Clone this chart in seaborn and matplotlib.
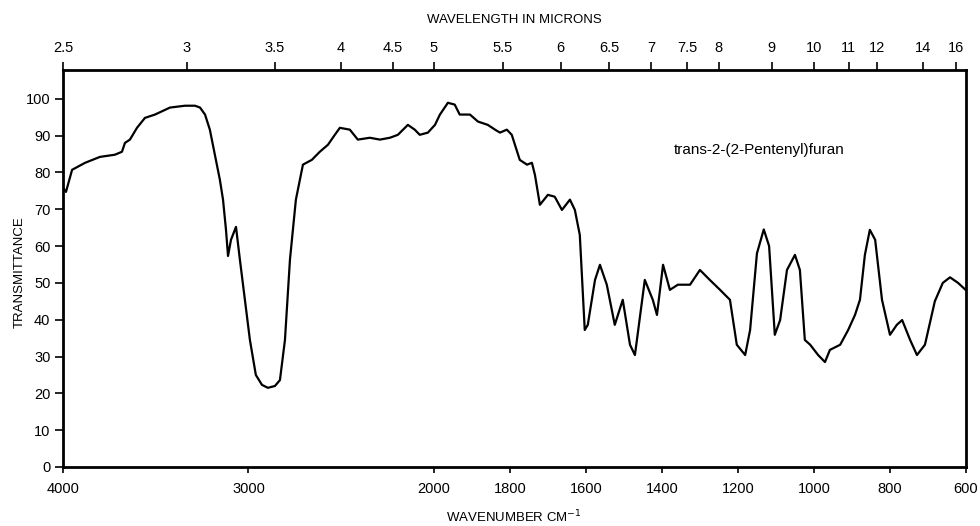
import numpy as np
import pandas as pd
import matplotlib
matplotlib.use("Agg")
import matplotlib.pyplot as plt
import seaborn as sns

# ---- data ----
wavenumber = [4000, 3984, 3951, 3881, 3801, 3720, 3682, 3666, 3639, 3601, 3558, 3504,
              3423, 3342, 3288, 3261, 3234, 3208, 3181, 3154, 3137, 3121, 3110, 3094,
              3067, 3046, 3019, 2992, 2960, 2927, 2895, 2857, 2830, 2803, 2776, 2744,
              2706, 2658, 2615, 2571, 2534, 2507, 2453, 2410, 2345, 2291, 2237, 2194,
              2140, 2103, 2076, 2032, 1997, 1984, 1963, 1945, 1932, 1905, 1884, 1858,
              1839, 1826, 1808, 1795, 1774, 1755, 1742, 1734, 1721, 1700, 1682, 1663,
              1642, 1629, 1616, 1603, 1595, 1576, 1563, 1545, 1524, 1503, 1484, 1471,
              1445, 1424, 1413, 1397, 1379, 1358, 1326, 1300, 1274, 1247, 1221, 1203,
              1181, 1168, 1150, 1132, 1118, 1103, 1089, 1071, 1050, 1037, 1024, 1010,
              989, 971, 958, 931, 910, 892, 879, 866, 853, 839, 821, 800, 782, 768,
              747, 729, 708, 682, 661, 642, 621, 600]
transmittance = [75.8, 74.7, 80.7, 82.6, 84.2, 84.8, 85.6, 88.0, 88.9, 92.1, 94.8, 95.7,
                 97.6, 98.1, 98.1, 97.6, 95.7, 91.6, 84.8, 78.0, 72.6, 64.4, 57.3, 61.7,
                 65.2, 56.3, 45.4, 34.5, 25.0, 22.3, 21.5, 22.0, 23.6, 34.5, 56.3, 72.6,
                 82.1, 83.4, 85.6, 87.5, 90.2, 92.1, 91.6, 88.9, 89.4, 88.9, 89.4, 90.2,
                 92.9, 91.6, 90.2, 90.8, 92.9, 95.7, 98.9, 98.4, 95.7, 95.7, 93.8, 92.9,
                 91.6, 90.8, 91.6, 90.2, 83.4, 82.1, 82.6, 79.3, 71.2, 73.9, 73.4, 69.8,
                 72.6, 69.8, 63.0, 37.2, 38.6, 50.8, 54.9, 49.5, 38.6, 45.4, 33.2, 30.4,
                 50.8, 45.4, 41.3, 54.9, 48.1, 49.5, 49.5, 53.5, 50.8, 48.1, 45.4, 33.2,
                 30.4, 37.2, 58.0, 64.5, 60.0, 35.9, 39.9, 53.5, 57.6, 53.5, 34.5, 33.2,
                 30.4, 28.5, 31.8, 33.2, 37.2, 41.3, 45.4, 57.6, 64.4, 61.7, 45.4, 35.9,
                 38.6, 39.9, 34.5, 30.4, 33.2, 45.0, 50.0, 51.5, 50.0, 48.0]

wavenumber_ticks = [4000, 3000, 2000, 1800, 1600, 1400, 1200, 1000, 800, 600]
micron_ticks = [2.5, 3, 3.5, 4, 4.5, 5, 5.5, 6, 6.5, 7, 7.5, 8, 9, 10, 11, 12, 14, 16]
micron_labels = ["2.5", "3", "3.5", "4", "4.5", "5", "5.5", "6", "6.5", "7", "7.5",
                 "8", "9", "10", "11", "12", "14", "16"]
y_ticks = [0, 10, 20, 30, 40, 50, 60, 70, 80, 90, 100]
compound = "trans-2-(2-Pentenyl)furan"

sns.set_theme(style="white")
plt.rcParams["font.family"] = ["Liberation Sans", "DejaVu Sans"]

RATIO = 2.05  # scale change at 2000 cm-1


def fwd(x):
    x = np.asarray(x, dtype=float)
    return np.where(x >= 2000, x, 2000 - (2000 - x) * RATIO)


def inv(u):
    u = np.asarray(u, dtype=float)
    return np.where(u >= 2000, u, 2000 - (2000 - u) / RATIO)


W, H = 980, 526
fig = plt.figure(figsize=(W / 100, H / 100), dpi=100)
L, R, T, B = 63, 966, 70, 467
ax = fig.add_axes([L / W, 1 - B / H, (R - L) / W, (B - T) / H])

df = pd.DataFrame({"wavenumber": wavenumber, "T": transmittance})
sns.lineplot(data=df, x="wavenumber", y="T", ax=ax, color="black", lw=1.6,
             sort=False, estimator=None)

ax.set_xscale("function", functions=(fwd, inv))
ax.set_xlim(4000, 600)
ax.set_ylim(0, 107.8)
ax.set_xticks(wavenumber_ticks)
ax.set_xticklabels([str(t) for t in wavenumber_ticks])
ax.set_yticks(y_ticks)
ax.set_yticklabels([str(t) for t in y_ticks])
ax.minorticks_off()
ax.set_xlabel("")
ax.set_ylabel("")
ax.tick_params(axis="x", direction="out", length=4, width=1.2, colors="black",
               labelsize=10.5, pad=7, bottom=True)
ax.tick_params(axis="y", direction="out", length=6, width=1.2, colors="black",
               labelsize=10.5, pad=3, left=True)
for s in ax.spines.values():
    s.set_linewidth(2)
    s.set_color("black")

ax2 = ax.twiny()
ax2.set_xscale("function", functions=(fwd, inv))
ax2.set_xlim(4000, 600)
ax2.set_xticks([10000 / m for m in micron_ticks])
ax2.set_xticklabels(micron_labels)
ax2.minorticks_off()
ax2.tick_params(axis="x", direction="out", length=6, width=1.2, colors="black",
                labelsize=10.5, pad=5, top=True)
for s in ax2.spines.values():
    s.set_visible(False)

ax.text(1370, 86.0, compound, fontsize=11, ha="left", va="center", color="black")

fig.text(514 / W, 1 - 20 / H, "WAVELENGTH IN MICRONS", fontsize=9.5, ha="center",
         va="center", color="black")
fig.text(514 / W, 1 - 517 / H, r"WAVENUMBER CM$^{-1}$", fontsize=9.5, ha="center",
         va="center", color="black")
fig.text(20 / W, 1 - 272 / H, "TRANSMITTANCE", fontsize=9.5, rotation=90, ha="center",
         va="center", color="black")

fig.savefig("out.png", dpi=100, facecolor="white")
